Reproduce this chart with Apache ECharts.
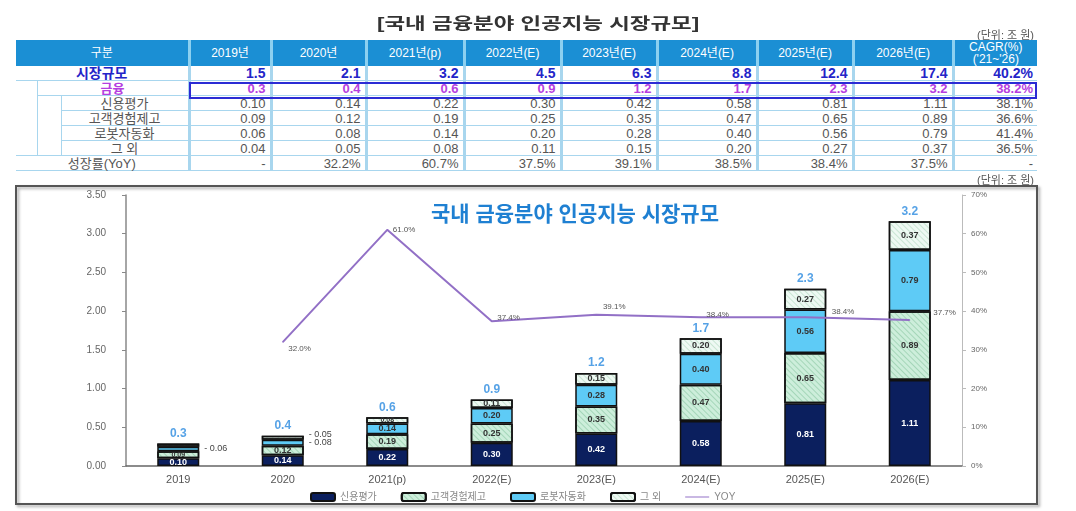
<!DOCTYPE html>
<html>
<head>
<meta charset="utf-8">
<script src="https://cdn.jsdelivr.net/npm/echarts@6/dist/echarts.min.js"></script>
<style>
  body { margin: 0; background: #fff; font-family: "Liberation Sans", "Noto Sans CJK KR", sans-serif; }
  #chart { position: absolute; left: 0; top: 0; width: 1076px; height: 511px; }
  #title { position: absolute; top: 10px; left: 0; width: 1076px; text-align: center;
           font-size: 16px; font-weight: bold; color: #333; z-index: 2; }
  #title span { display: inline-block; transform: scaleX(1.4); }
  .unit { position: absolute; right: 42px; font-size: 11px; color: #555; z-index: 2; }
  #tbl { position: absolute; left: 16px; top: 40px; width: 1021px; border-collapse: collapse;
         table-layout: fixed; z-index: 2; background: #fff; }
  #tbl th { background: #1b8fd4; color: #fff; font-weight: normal; font-size: 12px; height: 26px;
            line-height: 12px; text-align: center; border-left: 3px solid #8cd0f0; padding: 0; }
  #tbl th:first-child { border-left: none; }
  #tbl td { height: 14px; line-height: 13px; font-size: 13px; color: #555; text-align: right;
            padding: 0 4px 0 0; white-space: nowrap; border-bottom: 1.5px solid #a8d6ee; }
  #tbl td.v { border-left: 3px solid #a8d6ee; }
  #tbl td.lab { text-align: center; padding: 0; }
  #tbl td.tree0, #tbl td.tree1 { border-right: 1.5px solid #a8d6ee; padding: 0; }
  #tbl tr.mk td { color: #2424c8; font-weight: bold; font-size: 14px; }
  #tbl tr.fin td { color: #b53ee0; font-weight: bold; }
  #finBox { position: absolute; left: 189px; top: 82px; width: 848px; height: 17px;
            box-sizing: border-box; border: 2px solid #2b2bd4; z-index: 3; }
</style>
</head>
<body>
<div id="chart"></div>
<div id="title"><span>[국내 금융분야 인공지능 시장규모]</span></div>
<div class="unit" style="top:26px">(단위: 조 원)</div>
<table id="tbl"></table>
<div id="finBox"></div>
<div class="unit" style="top:171px">(단위: 조 원)</div>
<script>
// 표/차트 데이터
var years = ["2019", "2020", "2021(p)", "2022(E)", "2023(E)", "2024(E)", "2025(E)", "2026(E)"];
var yearHeads = ["2019년", "2020년", "2021년(p)", "2022년(E)", "2023년(E)", "2024년(E)", "2025년(E)", "2026년(E)"];
var marketSize = [1.5, 2.1, 3.2, 4.5, 6.3, 8.8, 12.4, 17.4];
var finance = [0.3, 0.4, 0.6, 0.9, 1.2, 1.7, 2.3, 3.2];
var credit = [0.10, 0.14, 0.22, 0.30, 0.42, 0.58, 0.81, 1.11];
var custExp = [0.09, 0.12, 0.19, 0.25, 0.35, 0.47, 0.65, 0.89];
var robot = [0.06, 0.08, 0.14, 0.20, 0.28, 0.40, 0.56, 0.79];
var others = [0.04, 0.05, 0.08, 0.11, 0.15, 0.20, 0.27, 0.37];
var growthTable = ["-", "32.2%", "60.7%", "37.5%", "39.1%", "38.5%", "38.4%", "37.5%"];
var cagr = ["40.2%", "38.2%", "38.1%", "36.6%", "41.4%", "36.5%", "-"];
var yoyChart = [null, 32.0, 61.0, 37.4, 39.1, 38.4, 38.4, 37.7];

var subRows = [
  { name: "신용평가", arr: credit },
  { name: "고객경험제고", arr: custExp },
  { name: "로봇자동화", arr: robot },
  { name: "그 외", arr: others }
];

// ---- 표 ----
var colW = [21, 24, 128, 82, 95, 98, 97, 96, 100, 96, 100, 84];
var h = "<colgroup>" + colW.map(function (w) { return '<col style="width:' + w + 'px">'; }).join("") + "</colgroup>";
h += '<tr><th colspan="3">구분</th>' + yearHeads.map(function (t) { return "<th>" + t + "</th>"; }).join("") +
     "<th>CAGR(%)<br>('21~'26)</th></tr>";
h += '<tr class="mk"><td colspan="3" class="lab">시장규모</td>' +
     marketSize.map(function (v) { return '<td class="v">' + v.toFixed(1) + "</td>"; }).join("") +
     '<td class="v">' + cagr[0] + "</td></tr>";
h += '<tr class="fin"><td rowspan="5" class="tree0"></td><td colspan="2" class="lab">금융</td>' +
     finance.map(function (v) { return '<td class="v">' + v.toFixed(1) + "</td>"; }).join("") +
     '<td class="v">' + cagr[1] + "</td></tr>";
subRows.forEach(function (s, k) {
  h += "<tr>" + (k === 0 ? '<td rowspan="4" class="tree1"></td>' : "") +
       '<td class="lab">' + s.name + "</td>" +
       s.arr.map(function (v) { return '<td class="v">' + v.toFixed(2) + "</td>"; }).join("") +
       '<td class="v">' + cagr[k + 2] + "</td></tr>";
});
h += '<tr><td colspan="3" class="lab">성장률(YoY)</td>' +
     growthTable.map(function (v) { return '<td class="v">' + v + "</td>"; }).join("") +
     '<td class="v">-</td></tr>';
document.getElementById("tbl").innerHTML = h;

// ---- 차트 ----
var sideLabels = { robot: [0, 1], others: [1] };
var sideOffset = { robot: [0, 0], others: [0, -3] };
var hideLabels = { others: [0] };
var hatch = function (c) {
  return { symbol: "rect", symbolSize: 1, dashArrayX: [[1, 0]], dashArrayY: [1, 3], rotation: Math.PI / 4, color: c };
};

function segData(key, arr) {
  return arr.map(function (v, i) {
    var item = { value: v };
    if ((sideLabels[key] || []).indexOf(i) >= 0) {
      item.label = { position: "right", distance: 5, color: "#444", fontWeight: "normal",
                     offset: sideOffset[key], formatter: "- {c}" };
    } else if ((hideLabels[key] || []).indexOf(i) >= 0) {
      item.label = { show: false };
    } else if (v < 0.1) {
      item.label = { fontSize: 7 };
    }
    return item;
  });
}

var stackTop = credit.map(function (v, i) { return +(v + custExp[i] + robot[i] + others[i]).toFixed(2); });

var yoyLabel = [null,
  { position: "right", offset: [0, 7] },
  { position: "right" },
  { position: "right", offset: [0, -3] },
  { position: "top", offset: [18, 2] },
  { position: "right", offset: [0, -3] },
  { position: "right", distance: 26, offset: [0, -6] },
  { position: "right", distance: 23, offset: [0, -7] }];
var yoyData = yoyChart.map(function (v, i) {
  return v === null ? null : { value: v, label: yoyLabel[i] };
});

function barSeries(name, key, arr, color, txt, decal) {
  return {
    name: name, type: "bar", stack: "ai", barWidth: 42, data: segData(key, arr),
    itemStyle: { color: color, borderColor: "#111", borderWidth: 1.5, decal: decal },
    label: { show: true, position: "inside", fontSize: 9, fontWeight: "bold", color: txt,
             formatter: function (p) { return p.value.toFixed(2); } }
  };
}

var chart = echarts.init(document.getElementById("chart"));
var option = {
  animation: false,
  textStyle: { fontFamily: "Liberation Sans, Noto Sans CJK KR, sans-serif" },
  title: {
    text: "국내 금융분야 인공지능 시장규모", left: 570, top: 200, textAlign: "center",
    textStyle: { fontSize: 21, fontWeight: "bold", color: "#1f80d2" }
  },
  graphic: [{
    type: "rect", z: -1, shape: { x: 16, y: 186, width: 1021, height: 318 },
    style: { fill: "none", stroke: "#555", lineWidth: 2,
             shadowBlur: 3, shadowColor: "rgba(0,0,0,0.35)", shadowOffsetX: 2, shadowOffsetY: 2 }
  }],
  legend: {
    left: 305, top: 487, itemWidth: 24, itemHeight: 8, itemGap: 24,
    data: ["신용평가", "고객경험제고", "로봇자동화", "그 외", { name: "YOY", icon: "path://M0,4L24,4L24,5L0,5Z" }],
    textStyle: { fontSize: 10, color: "#888" }
  },
  grid: { left: 126, right: 114, top: 195, bottom: 45 },
  xAxis: {
    type: "category", data: years,
    axisLine: { lineStyle: { color: "#666", width: 1.5 } },
    axisTick: { show: false },
    axisLabel: { fontSize: 11, color: "#555", margin: 8 }
  },
  yAxis: [{
    type: "value", min: 0, max: 3.5, interval: 0.5,
    axisLine: { show: true, lineStyle: { color: "#888", width: 1.5 } },
    axisTick: { show: true, length: 4 },
    splitLine: { show: false },
    axisLabel: { fontSize: 10, color: "#666", margin: 20, formatter: function (v) { return v.toFixed(2); } }
  }, {
    type: "value", min: 0, max: 70, interval: 10,
    axisLine: { show: true, lineStyle: { color: "#bbb" } },
    axisTick: { show: true, length: 4 },
    splitLine: { show: false },
    axisLabel: { fontSize: 8, color: "#666", margin: 9, formatter: "{value}%" }
  }],
  series: [
    barSeries("신용평가", "credit", credit, "#0b1f5e", "#fff"),
    barSeries("고객경험제고", "custExp", custExp, "#cdeedb", "#333", hatch("rgba(90,170,120,0.35)")),
    barSeries("로봇자동화", "robot", robot, "#5ecbf6", "#333"),
    barSeries("그 외", "others", others, "#eef9f3", "#333", hatch("rgba(90,170,120,0.25)")),
    {
      type: "scatter", data: stackTop, symbolSize: 0, silent: true,
      label: { show: true, position: "top", distance: 4, fontSize: 12, fontWeight: "bold", color: "#2c8be0",
               formatter: function (p) { return finance[p.dataIndex].toFixed(1); } }
    },
    {
      name: "YOY", type: "line", yAxisIndex: 1, data: yoyData, z: 5,
      showSymbol: true, symbol: "circle", symbolSize: 1,
      lineStyle: { color: "#9270c6", width: 2 }, itemStyle: { color: "#9270c6" },
      label: { show: true, fontSize: 8, color: "#555", formatter: function (p) { return p.value.toFixed(1) + "%"; } }
    }
  ]
};
chart.setOption(option);
</script>
</body>
</html>
